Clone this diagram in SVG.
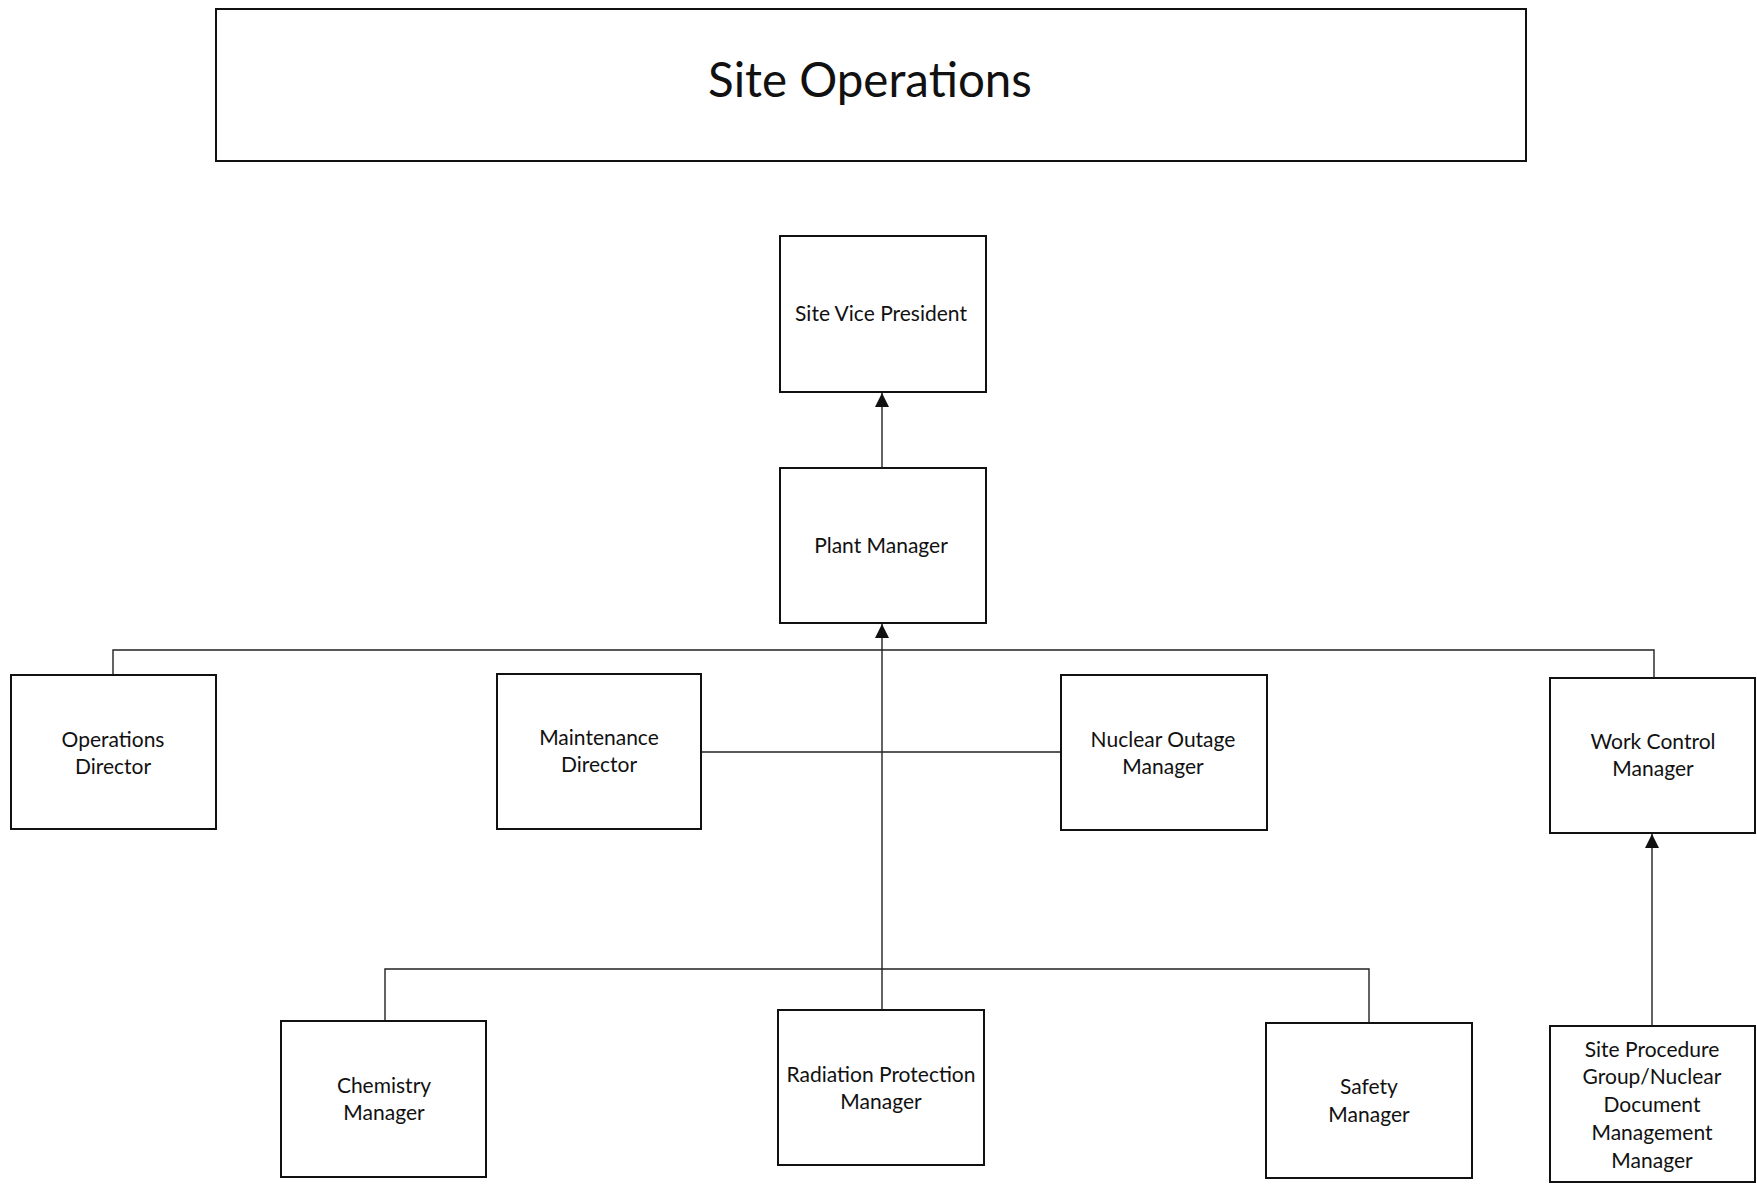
<svg xmlns="http://www.w3.org/2000/svg" width="1757" height="1186" viewBox="0 0 1757 1186">
  <style>
    .box { fill: #ffffff; stroke: #111111; stroke-width: 2; }
    .lbl { font-family: Lato, "Liberation Sans", sans-serif; font-size: 21px; fill: #111111; text-anchor: middle; }
    .title { font-family: Lato, "Liberation Sans", sans-serif; font-size: 47.5px; fill: #111111; text-anchor: middle; }
    .conn { fill: none; stroke: #222222; stroke-width: 1.4; }
  </style>
  <defs>
    <marker id="arrow" viewBox="0 0 10 10" refX="10" refY="5" markerWidth="14" markerHeight="14" markerUnits="userSpaceOnUse" orient="auto">
      <path d="M0,0 L10,5 L0,10 Z" fill="#111111"/>
    </marker>
  </defs>
  <rect width="1757" height="1186" fill="#ffffff"/>

  <g id="connectors">
    <!-- Plant Manager reports to Site Vice President -->
    <line class="conn" x1="882" y1="468" x2="882" y2="393" marker-end="url(#arrow)"/>
    <!-- Director / manager bar under Plant Manager -->
    <path class="conn" d="M113,675 V650 H1654 V678"/>
    <line class="conn" x1="882" y1="1010" x2="882" y2="624" marker-end="url(#arrow)"/>
    <!-- Maintenance to Nuclear Outage -->
    <line class="conn" x1="701" y1="752" x2="1061" y2="752"/>
    <!-- Lower manager bar -->
    <path class="conn" d="M385,1021 V969 H1369 V1023"/>
    <!-- Site Procedure Group to Work Control -->
    <line class="conn" x1="1652" y1="1026" x2="1652" y2="834" marker-end="url(#arrow)"/>
  </g>

  <g id="site-operations">
    <rect class="box" x="216" y="9" width="1310" height="152"/>
    <text class="title" x="870" y="97">Site Operations</text>
  </g>

  <g id="site-vice-president">
    <rect class="box" x="780" y="236" width="206" height="156"/>
    <text class="lbl" x="881" y="321">Site Vice President</text>
  </g>

  <g id="plant-manager">
    <rect class="box" x="780" y="468" width="206" height="155"/>
    <text class="lbl" x="881" y="553">Plant Manager</text>
  </g>

  <g id="operations-director">
    <rect class="box" x="11" y="675" width="205" height="154"/>
    <text class="lbl" x="113" y="747">Operations</text>
    <text class="lbl" x="113" y="774">Director</text>
  </g>

  <g id="maintenance-director">
    <rect class="box" x="497" y="674" width="204" height="155"/>
    <text class="lbl" x="599" y="745">Maintenance</text>
    <text class="lbl" x="599" y="772">Director</text>
  </g>

  <g id="nuclear-outage-manager">
    <rect class="box" x="1061" y="675" width="206" height="155"/>
    <text class="lbl" x="1163" y="747">Nuclear Outage</text>
    <text class="lbl" x="1163" y="774">Manager</text>
  </g>

  <g id="work-control-manager">
    <rect class="box" x="1550" y="678" width="205" height="155"/>
    <text class="lbl" x="1653" y="749">Work Control</text>
    <text class="lbl" x="1653" y="776">Manager</text>
  </g>

  <g id="chemistry-manager">
    <rect class="box" x="281" y="1021" width="205" height="156"/>
    <text class="lbl" x="384" y="1093">Chemistry</text>
    <text class="lbl" x="384" y="1120">Manager</text>
  </g>

  <g id="radiation-protection-manager">
    <rect class="box" x="778" y="1010" width="206" height="155"/>
    <text class="lbl" x="881" y="1082">Radiation Protection</text>
    <text class="lbl" x="881" y="1109">Manager</text>
  </g>

  <g id="safety-manager">
    <rect class="box" x="1266" y="1023" width="206" height="155"/>
    <text class="lbl" x="1369" y="1094">Safety</text>
    <text class="lbl" x="1369" y="1122">Manager</text>
  </g>

  <g id="site-procedure-group">
    <rect class="box" x="1550" y="1026" width="205" height="156"/>
    <text class="lbl" x="1652" y="1057">Site Procedure</text>
    <text class="lbl" x="1652" y="1084">Group/Nuclear</text>
    <text class="lbl" x="1652" y="1112">Document</text>
    <text class="lbl" x="1652" y="1140">Management</text>
    <text class="lbl" x="1652" y="1168">Manager</text>
  </g>
</svg>
